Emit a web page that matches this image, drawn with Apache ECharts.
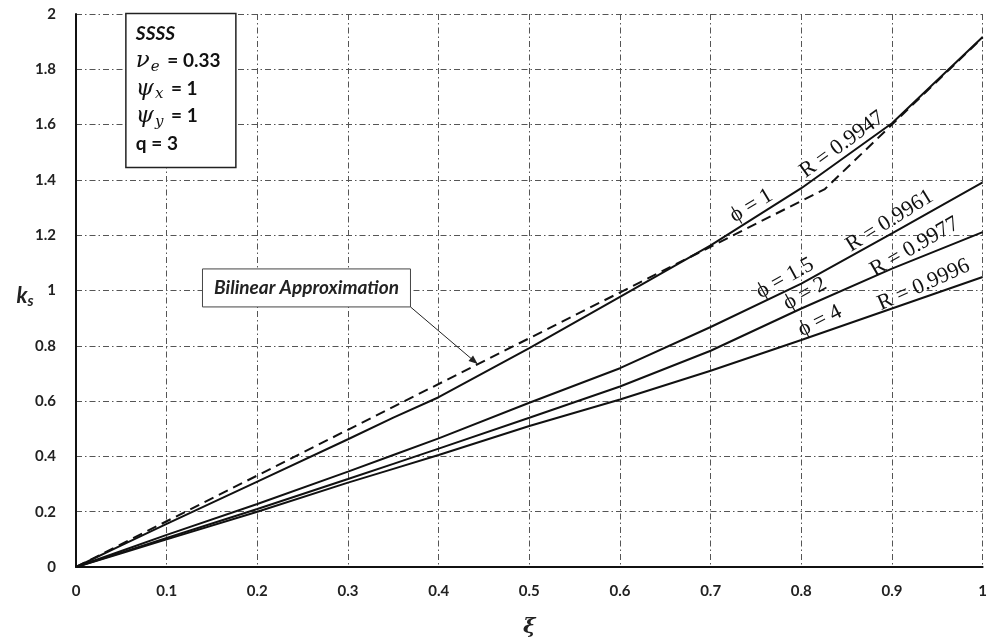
<!DOCTYPE html>
<html>
<head>
<meta charset="utf-8">
<title>Shear factor k_s versus ξ</title>
<script src="https://cdn.jsdelivr.net/npm/echarts@6/dist/echarts.min.js"></script>
<style>
  html, body { margin: 0; padding: 0; background: #ffffff; }
  #chart { width: 990px; height: 643px; }
</style>
</head>
<body>
<div id="chart"></div>
<script>
// Abscissa samples ξ
const xi = [0, 0.05, 0.1, 0.2, 0.3, 0.35, 0.4, 0.5, 0.6, 0.7, 0.8, 0.9, 1.0];

// k_s for each φ
const phi1   = [0, 0.078, 0.156, 0.309, 0.462, 0.54, 0.614, 0.792, 0.977, 1.163, 1.37, 1.605, 1.917];
const phi1_5 = [0, 0.058, 0.116, 0.228, 0.345, 0.405, 0.465, 0.594, 0.719, 0.868, 1.025, 1.207, 1.391];
const phi2   = [0, 0.052, 0.105, 0.21, 0.318, 0.373, 0.428, 0.54, 0.653, 0.782, 0.935, 1.079, 1.211];
const phi4   = [0, 0.05, 0.1, 0.2, 0.305, 0.355, 0.405, 0.51, 0.606, 0.71, 0.821, 0.935, 1.049];

// Bilinear approximation of the φ = 1 curve
const bilinearX = [0, 0.826, 1.0];
const bilinearY = [0, 1.367, 1.915];

// Axis ticks
const xTicks = [0, 0.1, 0.2, 0.3, 0.4, 0.5, 0.6, 0.7, 0.8, 0.9, 1];
const yTicks = [0, 0.2, 0.4, 0.6, 0.8, 1, 1.2, 1.4, 1.6, 1.8, 2];

// Curve annotations: text, curve it sits on, ξ of its anchor, rotation in degrees
const curveLabels = [
  { text: 'ϕ = 1',      curve: phi1,   at: 0.751, angle: 31 },
  { text: 'R = 0.9947', curve: phi1,   at: 0.852, angle: 36 },
  { text: 'ϕ = 1.5',    curve: phi1_5, at: 0.788, angle: 29 },
  { text: 'R = 0.9961', curve: phi1_5, at: 0.904, angle: 32 },
  { text: 'ϕ = 2',      curve: phi2,   at: 0.810, angle: 29 },
  { text: 'R = 0.9977', curve: phi2,   at: 0.931, angle: 30 },
  { text: 'ϕ = 4',      curve: phi4,   at: 0.826, angle: 27 },
  { text: 'R = 0.9996', curve: phi4,   at: 0.940, angle: 24 }
];

const pairs = (xs, ys) => xs.map((x, i) => [x, ys[i]]);

// Linear interpolation along a sampled curve
function valueAt(ys, x) {
  for (let i = 1; i < xi.length; i++) {
    if (x <= xi[i]) {
      const t = (x - xi[i - 1]) / (xi[i] - xi[i - 1]);
      return ys[i - 1] + t * (ys[i] - ys[i - 1]);
    }
  }
  return ys[ys.length - 1];
}

const gridStyle = { color: '#555', width: 1, type: [6, 3, 1.5, 3] };
const tickFont = { fontFamily: 'Lato', fontWeight: 'bold', fontSize: 15, color: '#222' };

const chart = echarts.init(document.getElementById('chart'), null, { renderer: 'canvas' });

const solid = (name, data) => ({
  name, type: 'line', data, symbol: 'none', smooth: false,
  lineStyle: { color: '#111', width: 2 }, z: 3
});

chart.setOption({
  animation: false,
  backgroundColor: '#ffffff',
  grid: { left: 76, right: 5, top: 14, bottom: 73, containLabel: false },
  xAxis: {
    type: 'value', min: 0, max: 1, interval: 0.1,
    axisLine: { show: true, onZero: false, lineStyle: { color: '#111', width: 2 } },
    axisTick: { show: false },
    splitLine: { show: true, lineStyle: gridStyle },
    axisLabel: Object.assign({ margin: 17, formatter: v => String(+v.toFixed(1)) }, tickFont),
    name: 'ξ', nameLocation: 'middle', nameGap: 50,
    nameTextStyle: { fontFamily: 'DejaVu Serif', fontStyle: 'italic', fontWeight: 'bold', fontSize: 21, color: '#222' }
  },
  yAxis: {
    type: 'value', min: 0, max: 2, interval: 0.2,
    axisLine: { show: true, onZero: false, lineStyle: { color: '#111', width: 2 } },
    axisTick: { show: false },
    splitLine: { show: true, lineStyle: gridStyle },
    axisLabel: Object.assign({ margin: 20, formatter: v => String(+v.toFixed(1)) }, tickFont)
  },
  series: [
    solid('ϕ = 1', pairs(xi, phi1)),
    solid('ϕ = 1.5', pairs(xi, phi1_5)),
    solid('ϕ = 2', pairs(xi, phi2)),
    solid('ϕ = 4', pairs(xi, phi4)),
    {
      name: 'Bilinear Approximation', type: 'line', data: pairs(bilinearX, bilinearY),
      symbol: 'none', lineStyle: { color: '#111', width: 2, type: [10, 6] }, z: 2
    }
  ]
});

// Annotations positioned through the chart's own coordinate conversion
const px = (pt) => chart.convertToPixel({ gridIndex: 0 }, pt);

// Each curve label rests on its curve, rotated about its bottom-centre
const graphics = curveLabels.map(l => {
  const p = px([l.at, valueAt(l.curve, l.at)]);
  return {
    type: 'text', x: p[0], y: p[1] - 1, rotation: l.angle * Math.PI / 180, z: 10,
    style: {
      text: l.text, align: 'center', verticalAlign: 'bottom',
      fontFamily: 'Liberation Serif', fontSize: 22, fill: '#111'
    }
  };
});

// Parameter box
const boxTL = px([0.055, 1.998]);
graphics.push({
  type: 'rect', z: 10,
  shape: { x: boxTL[0], y: boxTL[1] - 1, width: 110, height: 154 },
  style: { fill: '#fff', stroke: '#222', lineWidth: 1.5 }
});
const sansB = { fontFamily: 'Lato', fontWeight: 'bold', fontSize: 19, fill: '#111' };
const mathI = { fontFamily: 'DejaVu Serif', fontStyle: 'italic', fontSize: 23, fill: '#111' };
const mathSub = { fontFamily: 'DejaVu Serif', fontStyle: 'italic', fontSize: 15, fill: '#111', padding: [12, 3, 0, 1] };
const boxLines = [
  '{bi|SSSS}',
  '{m|ν}{s|e}{t| = 0.33}',
  '{m|ψ}{s|x}{t| = 1}',
  '{m|ψ}{s|y}{t| = 1}',
  '{t|q = 3}'
];
boxLines.forEach((line, i) => {
  graphics.push({
    type: 'text', z: 11,
    x: boxTL[0] + 10, y: boxTL[1] + 19 + i * 27.5,
    style: {
      text: line, align: 'left', verticalAlign: 'middle',
      rich: {
        bi: Object.assign({}, sansB, { fontStyle: 'italic' }),
        t: sansB,
        m: mathI,
        s: mathSub
      }
    }
  });
});

// Bilinear approximation callout with arrow
const calloutTL = px([0.1395, 1.078]);
graphics.push({
  type: 'rect', z: 10,
  shape: { x: calloutTL[0], y: calloutTL[1], width: 208, height: 38 },
  style: { fill: '#fff', stroke: '#444', lineWidth: 1 }
});
graphics.push({
  type: 'text', z: 11, x: calloutTL[0] + 104, y: calloutTL[1] + 19,
  style: {
    text: 'Bilinear Approximation', align: 'center', verticalAlign: 'middle',
    fontFamily: 'Lato', fontStyle: 'italic', fontWeight: 'bold', fontSize: 19, fill: '#222'
  }
});
const arrowStart = [calloutTL[0] + 208, calloutTL[1] + 38];
const arrowEnd = px([0.443, 0.734]);
graphics.push({
  type: 'line', z: 10,
  shape: { x1: arrowStart[0], y1: arrowStart[1], x2: arrowEnd[0], y2: arrowEnd[1] },
  style: { stroke: '#222', lineWidth: 1 }
});
{
  const ang = Math.atan2(arrowEnd[1] - arrowStart[1], arrowEnd[0] - arrowStart[0]);
  const L = 9, W = 3.5;
  const bx = arrowEnd[0] - L * Math.cos(ang), by = arrowEnd[1] - L * Math.sin(ang);
  graphics.push({
    type: 'polygon', z: 10,
    shape: { points: [
      [arrowEnd[0], arrowEnd[1]],
      [bx + W * Math.sin(ang), by - W * Math.cos(ang)],
      [bx - W * Math.sin(ang), by + W * Math.cos(ang)]
    ] },
    style: { fill: '#222' }
  });
}

// Ordinate title k_s
graphics.push({
  type: 'text', z: 11, x: 25, y: 296,
  style: {
    text: '{k|k}{s|s}', align: 'center', verticalAlign: 'middle',
    rich: {
      k: { fontFamily: 'Lato', fontStyle: 'italic', fontWeight: 'bold', fontSize: 22, fill: '#222' },
      s: { fontFamily: 'Lato', fontStyle: 'italic', fontWeight: 'bold', fontSize: 15, fill: '#222', padding: [11, 0, 0, 0] }
    }
  }
});

chart.setOption({ graphic: graphics });
</script>
</body>
</html>
